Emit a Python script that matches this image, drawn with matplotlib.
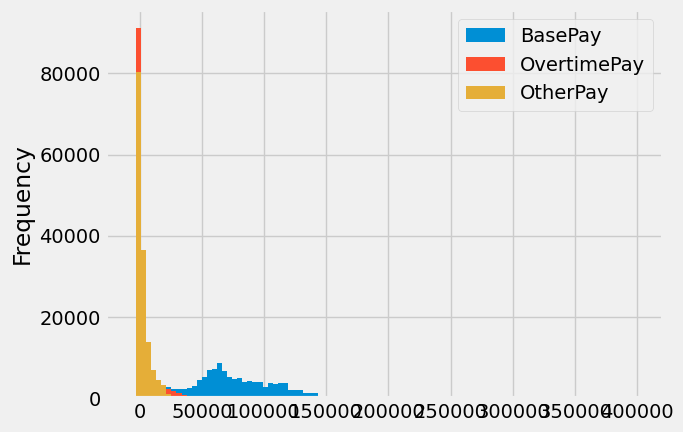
import numpy as np
import matplotlib
matplotlib.use('Agg')
import matplotlib.pyplot as plt

# data extent (min/max over all three columns) -> 100 shared bins
lo, hi = -7058.59, 400184.25
n_bins = 100

# counts per bin (bins beyond the listed ones are ~0)
base_pay = [0, 1200, 900, 800, 900, 1100, 1500, 2760, 2270, 2270, 2270, 2510,
            3000, 4480, 5260, 6940, 7190, 8670, 6700, 5220, 4730, 4970, 3990,
            4240, 3990, 3990, 2760, 3740, 3500, 3760, 3720, 2050, 2000, 1990,
            1300, 1270, 1250]
overtime_pay = [0, 91180, 18000, 9000, 6000, 4200, 3000, 2270, 1770, 1280,
                790, 620]
other_pay = [5, 80340, 36580, 13900, 7020, 4560, 3250, 1000]

series = [('BasePay', base_pay), ('OvertimePay', overtime_pay), ('OtherPay', other_pay)]

plt.style.use('fivethirtyeight')
fig = plt.figure(figsize=(6.83, 4.32), dpi=100)
ax = fig.add_subplot(111)
fig.subplots_adjust(left=0.1545, right=0.9704, bottom=0.0782, top=0.978)

edges = np.linspace(lo, hi, n_bins + 1)
centers = (edges[:-1] + edges[1:]) / 2
for name, counts in series:
    ax.hist(centers[:len(counts)], bins=edges, weights=counts, label=name)

ax.set_ylabel('Frequency')
ax.legend(loc='upper right')

plt.savefig('out.png', dpi=100)
